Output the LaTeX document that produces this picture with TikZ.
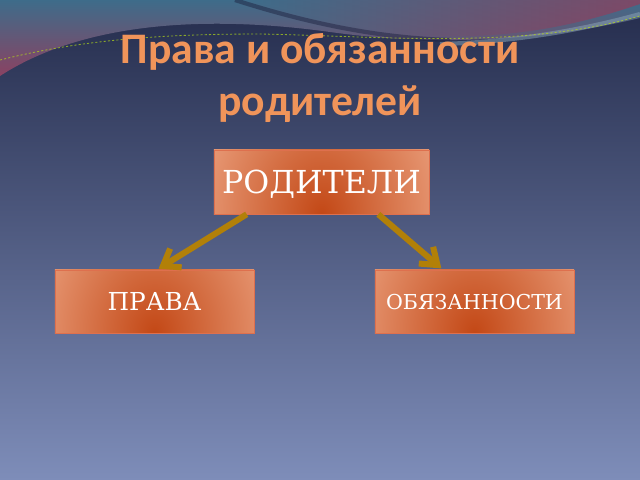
\documentclass[tikz,border=0pt]{standalone}
\usepackage{fontspec}
\setmainfont{DejaVu Serif}
\newfontfamily\titlefont{Carlito}
\usepackage{tikz}
\usetikzlibrary{arrows.meta}
\usepackage{xcolor}
\definecolor{rdbgtop}{RGB}{36,44,76}
\definecolor{rdbgbottom}{RGB}{126,141,185}
\definecolor{rdteal}{RGB}{62,108,138}
\definecolor{rdmauve}{RGB}{138,66,98}
\definecolor{rdred}{RGB}{150,60,90}
\definecolor{rdnavy}{RGB}{30,36,66}
\definecolor{rdpeach}{RGB}{250,194,166}
\definecolor{rdorange}{RGB}{195,72,22}
\definecolor{rdedge}{RGB}{222,112,78}
\definecolor{rdgold}{RGB}{178,128,8}
\definecolor{rdtitle}{RGB}{240,148,90}
\tikzstyle{rolebox} = [draw=rdedge, fill=rdpeach, text=white, inner sep=0pt, text depth=0pt,
  path picture={\shade[inner color=rdorange, outer color=rdpeach] (path picture bounding box.south) ellipse (185 and 235);}]
\tikzstyle{famarrow} = [line width=4.3pt, color=rdgold, shorten >=1.4pt, -{Straight Barb[length=0.38cm,width=0.55cm]}]
\tikzstyle{titletext} = [text=rdtitle, anchor=base, inner sep=0pt, font=\titlefont\bfseries\fontsize{31}{36}\selectfont]

\begin{document}
\begin{tikzpicture}[x=0.025cm, y=-0.025cm]
\useasboundingbox (0,0) rectangle (640,480);
% slide background
\shade[top color=rdbgtop, bottom color=rdbgbottom] (0,0) rectangle (640,480);

% waves at the top
\shade[top color=rdteal, bottom color=rdmauve] (0,0) -- (640,0) -- (640,18) .. controls (540,42) and (430,46) .. (330,32) .. controls (200,14) and (80,24) .. (0,76) -- cycle;
\shade[left color=rdteal, right color=rdred, opacity=0.7] (250,0) .. controls (330,28) and (400,38) .. (470,36) .. controls (550,34) and (610,14) .. (640,4) -- (640,0) -- cycle;
\draw[rdnavy, line width=3pt, opacity=0.5] (235,0) .. controls (310,24) and (380,38) .. (450,40);
\draw[rdteal!60!white, line width=3pt, opacity=0.5] (440,44) .. controls (520,42) and (590,28) .. (640,14);
\draw[yellow!70!green, dash pattern=on 1.5pt off 1.5pt, line width=0.6pt, opacity=0.7] (0,60) .. controls (80,40) and (160,34) .. (260,34) .. controls (380,36) and (520,50) .. (640,16);

% title
\node[titletext] (title1) at (320,63) {Права и обязанности};
\node[titletext] (title2) at (320,115) {родителей};

% boxes
\node[rolebox, minimum width=5.375cm, minimum height=1.6cm, font=\fontsize{22.5}{27}\selectfont] (parents) at (321.5,182) {РОДИТЕЛИ};
\node[rolebox, minimum width=4.975cm, minimum height=1.575cm, font=\fontsize{17.6}{21}\selectfont] (rights) at (154.5,301.5) {ПРАВА};
\node[rolebox, minimum width=4.975cm, minimum height=1.575cm, font=\fontsize{14.6}{18}\selectfont] (duties) at (474.5,301.5) {ОБЯЗАННОСТИ};

% arrows
\draw[famarrow] ([xshift=0.825cm]parents.south west) -- ([xshift=0.06cm]rights.north);
\draw[famarrow] ([xshift=-1.275cm]parents.south east) -- ([xshift=-0.79cm]duties.north);
\end{tikzpicture}
\end{document}
